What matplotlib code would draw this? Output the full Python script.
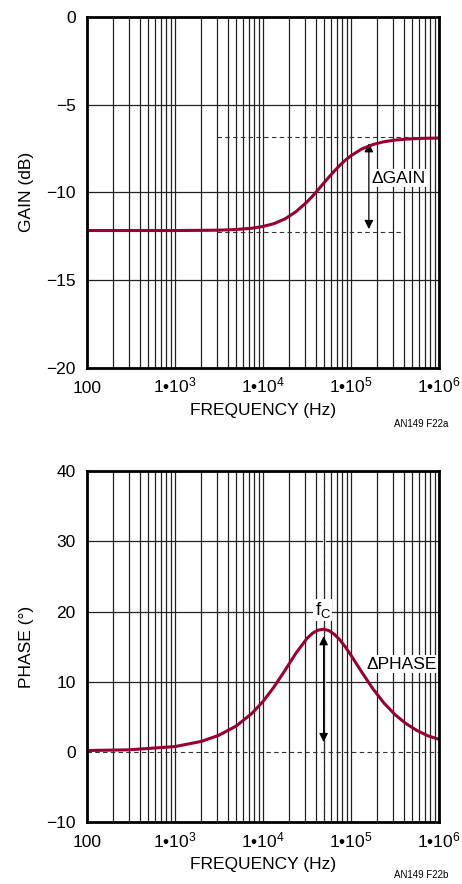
import numpy as np
import matplotlib
matplotlib.use('Agg')
import matplotlib.pyplot as plt
from matplotlib.ticker import LogLocator, NullFormatter

plt.rcParams['font.family'] = ['Liberation Sans Narrow', 'Liberation Sans', 'DejaVu Sans']
plt.rcParams['mathtext.fontset'] = 'custom'
plt.rcParams['mathtext.rm'] = 'Liberation Sans'
plt.rcParams['mathtext.it'] = 'Liberation Sans'

# values
freq = [100, 300, 1e3, 2e3, 3.16e3, 5e3, 7.5e3, 1e4, 1.33e4, 1.78e4, 2.37e4,
        3.16e4, 3.65e4, 4.22e4, 4.87e4, 5.62e4, 6.49e4, 7.5e4, 8.66e4, 1e5,
        1.33e5, 1.78e5, 2.37e5, 3.16e5, 4.22e5, 5.62e5, 7.5e5, 1e6]
gain_db = [-12.18, -12.18, -12.18, -12.17, -12.16, -12.12, -12.05, -11.95,
           -11.79, -11.52, -11.11, -10.56, -10.23, -9.87, -9.50, -9.14, -8.79,
           -8.46, -8.17, -7.92, -7.53, -7.28, -7.12, -7.03, -6.97, -6.94,
           -6.92, -6.91]
phase_deg = [0.2, 0.3, 0.76, 1.5, 2.37, 3.71, 5.49, 7.16, 9.21, 11.61, 14.05,
             16.15, 16.9, 17.34, 17.49, 17.29, 16.75, 15.96, 14.95, 13.8,
             11.37, 8.99, 6.98, 5.33, 4.04, 3.06, 2.3, 1.8]

x_ticks = [1e2, 1e3, 1e4, 1e5, 1e6]
x_tick_labels = ['100', '1•10$^{3}$', '1•10$^{4}$', '1•10$^{5}$', '1•10$^{6}$']
gain_ticks = [0, -5, -10, -15, -20]
phase_ticks = [-10, 0, 10, 20, 30, 40]

gain_hi = -6.86
gain_lo = -12.26
f_c = 5e4

red = '#990033'
fs = 12.5

fig = plt.figure(figsize=(4.62, 8.84), dpi=100)
ax1 = fig.add_axes([0.188, 0.584, 0.762, 0.397])
ax2 = fig.add_axes([0.188, 0.070, 0.762, 0.397])


def setup(ax, yticks, ylim, ylabel, skip_zero=False):
    ax.set_xscale('log')
    ax.set_xlim(100, 1e6)
    ax.set_ylim(*ylim)
    ax.set_xticks(x_ticks)
    ax.set_xticklabels(x_tick_labels, va='baseline')
    ax.xaxis.set_minor_locator(LogLocator(base=10, subs=np.arange(2, 10)))
    ax.xaxis.set_minor_formatter(NullFormatter())
    ax.set_yticks(yticks)
    ax.set_yticklabels([str(t).replace('-', '\u2212') for t in yticks])
    ax.grid(True, which='both', axis='x', color='#222222', lw=0.9)
    for t in yticks:
        if skip_zero and t == 0:
            continue
        ax.axhline(t, color='#222222', lw=0.9, zorder=1)
    ax.tick_params(which='both', length=0, labelsize=fs)
    ax.tick_params(axis='y', pad=8)
    ax.tick_params(axis='x', pad=18)
    for sp in ax.spines.values():
        sp.set_linewidth(2)
        sp.set_zorder(5)
    ax.set_xlabel('FREQUENCY (Hz)', fontsize=fs, labelpad=5)
    ax.set_ylabel(ylabel, fontsize=fs, labelpad=9)


arrow = dict(arrowstyle='<|-|>', color='black', lw=0.9,
             mutation_scale=13, shrinkA=0, shrinkB=0)

# gain
setup(ax1, gain_ticks, (-20, 0), 'GAIN (dB)')
ax1.plot([3e3, 1e6], [gain_hi, gain_hi], ls=(0, (4, 3)), color='#333333', lw=0.8, zorder=2)
ax1.plot([3e3, 4e5], [gain_lo, gain_lo], ls=(0, (4, 3)), color='#333333', lw=0.8, zorder=2)
ax1.plot(freq, gain_db, color=red, lw=2.2, zorder=4, solid_capstyle='butt')
ax1.annotate('', xy=(1.6e5, -7.2), xytext=(1.6e5, -12.1), arrowprops=arrow, zorder=3)
ax1.text(1.73e5, -9.2, '\u0394GAIN', fontsize=fs, va='center', ha='left', zorder=3,
         bbox=dict(facecolor='white', edgecolor='none', pad=1))

# phase
setup(ax2, phase_ticks, (-10, 40), 'PHASE (\u00b0)', skip_zero=True)
ax2.axvline(f_c, color='white', lw=2.0, zorder=1.5)
ax2.axvline(f_c, ls=(0, (4, 3)), color='#333333', lw=0.8, zorder=2)
ax2.axhline(0, ls=(0, (4, 3)), color='#333333', lw=0.8, zorder=2)
ax2.plot(freq, phase_deg, color=red, lw=2.2, zorder=4, solid_capstyle='butt')
ax2.annotate('', xy=(4.9e4, 16.5), xytext=(4.9e4, 1.4), arrowprops=arrow, zorder=3)
ax2.text(4.8e4, 20.2, 'f$_{\\mathrm{C}}$', fontsize=fs + 1, va='center', ha='center', zorder=3,
         bbox=dict(facecolor='white', edgecolor='none', pad=1))
ax2.text(1.5e5, 12.5, '\u0394PHASE', fontsize=fs, va='center', ha='left', zorder=3,
         bbox=dict(facecolor='white', edgecolor='none', pad=1))

fig.text(0.97, 0.52, 'AN149 F22a', fontsize=7, ha='right', va='center')
fig.text(0.97, 0.005, 'AN149 F22b', fontsize=7, ha='right', va='bottom')

fig.savefig('out.png', dpi=100)
